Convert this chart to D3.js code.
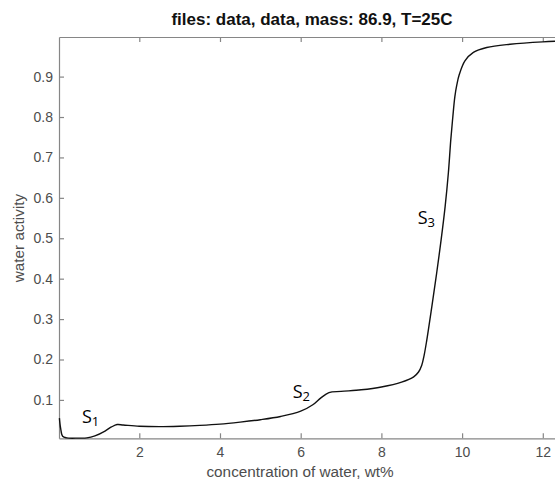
<!DOCTYPE html>
<html>
<head>
<meta charset="utf-8">
<script src="https://cdn.jsdelivr.net/npm/d3@7"></script>
<style>
  body { margin: 0; background: #fff; }
  svg { display: block; }
  .tick text { font-family: "Liberation Sans", Arial, sans-serif; font-size: 14px; fill: #4d4d4d; }
</style>
</head>
<body>
<div id="chart"></div>
<script>
// concentration of water (wt%) and water activity
var conc = [0.02, 0.05, 0.1, 0.2, 0.5, 0.7, 0.9, 1.15, 1.31, 1.45, 1.6, 2.0, 2.5, 3.0, 3.5, 4.0,
            4.5, 5.0, 5.5, 6.0, 6.3, 6.5, 6.7, 7.0, 7.5, 8.0, 8.5, 8.8, 8.92, 9.0, 9.06, 9.12, 9.25, 9.37,
            9.48, 9.58, 9.66, 9.72, 9.77, 9.82, 9.87, 9.93, 10.07, 10.28, 10.61, 11.19, 12.0, 12.5];
var activity = [0.055, 0.03, 0.01, 0.006, 0.0055, 0.006, 0.011, 0.023, 0.033, 0.039, 0.038, 0.035, 0.034, 0.035, 0.037, 0.040,
                0.045, 0.051, 0.059, 0.072, 0.088, 0.105, 0.118, 0.121, 0.125, 0.132, 0.144, 0.157, 0.169, 0.186, 0.211, 0.245, 0.331, 0.414,
                0.496, 0.579, 0.662, 0.744, 0.80, 0.850, 0.880, 0.905, 0.939, 0.960, 0.972, 0.980, 0.986, 0.988];
var xTicks = [2, 4, 6, 8, 10, 12];
var yTicks = [0.1, 0.2, 0.3, 0.4, 0.5, 0.6, 0.7, 0.8, 0.9];
var notes = [
    {s: 'S', sub: '1', x: 0.58, y: 0.042},
    {s: 'S', sub: '2', x: 5.8, y: 0.104},
    {s: 'S', sub: '3', x: 8.9, y: 0.535}
];

var width = 555, height = 481;
var plotLeft = 59, plotTop = 37, plotBottom = 438.3;
var pxPerUnit = 40.35;

var x = d3.scaleLinear().domain([0.01, 12.5]).range([plotLeft, plotLeft + 12.49 * pxPerUnit]);
var y = d3.scaleLinear().domain([0.005, 0.998]).range([plotBottom, plotTop]);

var svg = d3.select('#chart').append('svg')
    .attr('width', width)
    .attr('height', height);

var font = '"Liberation Sans", Arial, sans-serif';
var axisColor = '#868686';

// box + ticks (matlab style, ticks inside on all four sides)
function styleAxis(g) {
    g.select('.domain').attr('stroke', axisColor).attr('stroke-width', 1.2);
    g.selectAll('.tick line').attr('stroke', axisColor).attr('stroke-width', 1.2);
}

svg.append('g')
    .attr('transform', 'translate(0,' + plotBottom + ')')
    .call(d3.axisBottom(x).tickValues(xTicks).tickSize(-5).tickSizeOuter(0).tickPadding(9).tickFormat(d3.format('d')))
    .call(styleAxis);

svg.append('g')
    .attr('transform', 'translate(0,' + plotTop + ')')
    .call(d3.axisTop(x).tickValues(xTicks).tickSize(-5).tickSizeOuter(0).tickFormat(''))
    .call(styleAxis);

svg.append('g')
    .attr('transform', 'translate(' + plotLeft + ',0)')
    .call(d3.axisLeft(y).tickValues(yTicks).tickSize(-5).tickSizeOuter(0).tickPadding(6).tickFormat(d3.format('.1f')))
    .call(styleAxis);

// curve
var line = d3.line()
    .curve(d3.curveCatmullRom.alpha(0.5))
    .x(function(d) { return x(d[0]); })
    .y(function(d) { return y(d[1]); });

svg.append('path')
    .datum(d3.zip(conc, activity))
    .attr('d', line)
    .attr('fill', 'none')
    .attr('stroke', '#111')
    .attr('stroke-width', 1.4);

// title and axis labels
svg.append('text')
    .attr('x', 312).attr('y', 25)
    .attr('text-anchor', 'middle')
    .style('font-family', font).style('font-size', '17px').style('font-weight', 'bold')
    .attr('fill', '#111')
    .text('files: data, data, mass: 86.9, T=25C');

svg.append('text')
    .attr('x', 300).attr('y', 477)
    .attr('text-anchor', 'middle')
    .style('font-family', font).style('font-size', '15.3px')
    .attr('fill', '#4d4d4d')
    .text('concentration of water, wt%');

svg.append('text')
    .attr('transform', 'translate(24,238) rotate(-90)')
    .attr('text-anchor', 'middle')
    .style('font-family', font).style('font-size', '15.3px')
    .attr('fill', '#4d4d4d')
    .text('water activity');

// S1, S2, S3 annotations
notes.forEach(function(n) {
    var t = svg.append('text')
        .attr('x', x(n.x)).attr('y', y(n.y))
        .style('font-family', '"Open Sans", "Noto Sans", sans-serif')
        .style('font-size', '18px')
        .attr('fill', '#000');
    t.append('tspan').text(n.s);
    t.append('tspan').attr('dy', 3).style('font-size', '13px').text(n.sub);
});
</script>
</body>
</html>
